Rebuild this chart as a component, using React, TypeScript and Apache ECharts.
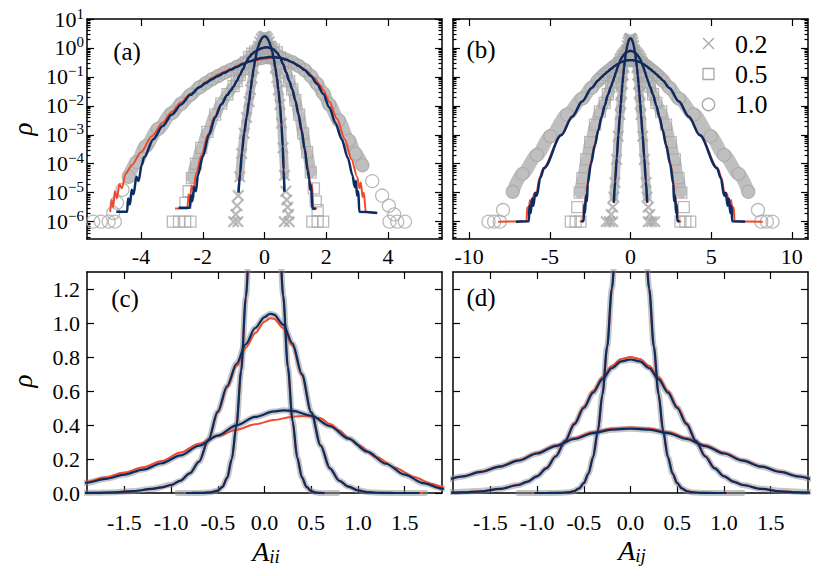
import React, { useEffect, useRef } from "react";
import * as echarts from "echarts";

// ---- values: pairs [A, log10(rho)] ----
// diagonal elements A_ii (panels a, c); sigma = 0.2, 0.5, 1.0
const diagGray02 = [[-1.0,-6.0],[-0.86,-6.0],[-0.93,-5.75],[-0.89,-5.45],[-0.85,-5.1],[-0.8,-4.45],[-0.74,-3.65],[-0.66,-2.95],[-0.58,-2.4],[-0.5,-1.85],[-0.45,-1.44],[-0.4,-1.05],[-0.35,-0.7],[-0.3,-0.4],[-0.25,-0.143],[-0.2,0.061],[-0.15,0.204],[-0.1,0.312],[-0.05,0.38],[0.0,0.405],[0.05,0.385],[0.1,0.322],[0.15,0.215],[0.2,0.065],[0.25,-0.13],[0.3,-0.37],[0.35,-0.68],[0.4,-1.03],[0.45,-1.45],[0.5,-1.95],[0.55,-2.6],[0.6,-3.45],[0.65,-4.4],[0.69,-4.95],[0.72,-5.25],[0.75,-5.5],[0.78,-5.75],[0.64,-6.0],[0.8,-6.0]];
const diagNavy02 = [[-0.84,-5.0],[-0.79,-4.35],[-0.73,-3.6],[-0.66,-2.95],[-0.58,-2.4],[-0.5,-1.85],[-0.45,-1.44],[-0.4,-1.05],[-0.35,-0.7],[-0.3,-0.4],[-0.25,-0.143],[-0.2,0.061],[-0.15,0.204],[-0.1,0.312],[-0.05,0.38],[0.0,0.405],[0.05,0.385],[0.1,0.322],[0.15,0.215],[0.2,0.065],[0.25,-0.13],[0.3,-0.37],[0.35,-0.68],[0.4,-1.03],[0.45,-1.45],[0.5,-1.95],[0.55,-2.65],[0.59,-3.4],[0.62,-4.2],[0.645,-4.97]];
const diagRed02 = [[-0.85,-5.0],[-0.8,-4.4],[-0.74,-3.65],[-0.66,-2.95],[-0.58,-2.4],[-0.5,-1.85],[-0.45,-1.44],[-0.4,-1.05],[-0.35,-0.7],[-0.3,-0.4],[-0.25,-0.145],[-0.2,0.058],[-0.15,0.2],[-0.1,0.307],[-0.05,0.374],[0.0,0.398],[0.05,0.379],[0.1,0.317],[0.15,0.211],[0.2,0.062],[0.25,-0.132],[0.3,-0.37],[0.35,-0.68],[0.4,-1.03],[0.45,-1.45],[0.5,-1.95],[0.55,-2.65],[0.59,-3.4],[0.62,-4.2],[0.65,-4.97]];

const diagGray05 = [[-2.97,-6.0],[-2.77,-6.0],[-2.57,-6.0],[-2.4,-6.0],[-2.56,-5.35],[-2.46,-4.95],[-2.35,-4.5],[-2.22,-4.0],[-2.05,-3.45],[-1.85,-2.9],[-1.6,-2.3],[-1.4,-1.92],[-1.2,-1.6],[-1.0,-1.32],[-0.9,-1.143],[-0.8,-0.939],[-0.7,-0.733],[-0.6,-0.502],[-0.5,-0.319],[-0.4,-0.201],[-0.3,-0.119],[-0.2,-0.058],[-0.1,-0.013],[0.0,0.015],[0.06,0.023],[0.1,0.021],[0.2,-0.004],[0.3,-0.056],[0.4,-0.155],[0.5,-0.323],[0.6,-0.553],[0.7,-0.839],[0.8,-1.143],[0.9,-1.43],[1.0,-1.8],[1.12,-2.3],[1.25,-2.95],[1.38,-3.6],[1.5,-4.3],[1.6,-4.85],[1.66,-5.3],[1.72,-5.6],[1.55,-6.0],[1.72,-6.0],[1.9,-6.0]];
const diagNavy05 = [[-2.78,-5.52],[-2.42,-5.52],[-2.38,-5.1],[-2.34,-5.3],[-2.28,-4.8],[-2.22,-4.95],[-2.16,-4.4],[-2.0,-3.75],[-1.8,-3.0],[-1.6,-2.4],[-1.4,-1.95],[-1.2,-1.62],[-1.1,-1.48],[-1.0,-1.328],[-0.9,-1.143],[-0.8,-0.939],[-0.7,-0.733],[-0.6,-0.502],[-0.5,-0.319],[-0.4,-0.201],[-0.3,-0.119],[-0.2,-0.058],[-0.1,-0.013],[0.0,0.015],[0.06,0.023],[0.1,0.021],[0.2,-0.004],[0.3,-0.056],[0.4,-0.155],[0.5,-0.323],[0.6,-0.553],[0.7,-0.839],[0.8,-1.143],[0.9,-1.43],[1.0,-1.82],[1.1,-2.3],[1.2,-2.85],[1.3,-3.5],[1.4,-4.25],[1.45,-4.55],[1.48,-4.9],[1.51,-4.75],[1.55,-5.55],[1.66,-5.56]];
const diagRed05 = [[-2.9,-5.55],[-2.5,-5.55],[-2.46,-5.05],[-2.42,-5.3],[-2.36,-4.75],[-2.3,-4.9],[-2.22,-4.35],[-2.04,-3.7],[-1.83,-2.98],[-1.62,-2.38],[-1.4,-1.93],[-1.2,-1.6],[-1.1,-1.465],[-1.0,-1.32],[-0.9,-1.14],[-0.8,-0.937],[-0.7,-0.733],[-0.6,-0.505],[-0.5,-0.325],[-0.4,-0.208],[-0.3,-0.127],[-0.2,-0.068],[-0.1,-0.027],[0.0,0.003],[0.06,0.012],[0.1,0.011],[0.2,-0.013],[0.3,-0.063],[0.4,-0.16],[0.5,-0.325],[0.6,-0.553],[0.7,-0.839],[0.8,-1.143],[0.9,-1.43],[1.0,-1.8],[1.1,-2.25],[1.2,-2.78],[1.3,-3.4],[1.4,-4.1],[1.5,-4.85],[1.54,-4.7],[1.58,-5.5],[1.7,-5.56]];

const diagGray10 = [[-5.55,-6.0],[-5.3,-6.0],[-5.05,-6.0],[-4.85,-6.0],[-4.9,-5.7],[-4.78,-5.35],[-4.6,-4.9],[-4.4,-4.45],[-4.15,-3.95],[-3.85,-3.4],[-3.45,-2.8],[-3.0,-2.25],[-2.7,-1.93],[-2.4,-1.62],[-2.1,-1.36],[-1.9,-1.215],[-1.7,-1.08],[-1.5,-0.967],[-1.3,-0.86],[-1.1,-0.757],[-0.9,-0.654],[-0.7,-0.556],[-0.5,-0.471],[-0.3,-0.4],[-0.1,-0.349],[0.1,-0.319],[0.2,-0.313],[0.3,-0.316],[0.5,-0.342],[0.7,-0.405],[0.9,-0.495],[1.1,-0.614],[1.3,-0.764],[1.5,-0.967],[1.7,-1.237],[1.9,-1.56],[2.1,-1.95],[2.4,-2.5],[2.74,-3.2],[2.95,-3.65],[3.17,-4.05],[3.49,-4.6],[3.81,-5.1],[4.03,-5.45],[4.2,-5.75],[4.05,-6.0],[4.3,-6.0],[4.55,-6.0]];
const diagNavy10 = [[-4.8,-5.66],[-4.45,-5.66],[-4.42,-5.2],[-4.36,-5.4],[-4.3,-4.9],[-4.24,-5.05],[-4.15,-4.45],[-4.08,-4.6],[-3.98,-4.05],[-3.9,-3.78],[-3.6,-3.15],[-3.3,-2.7],[-3.0,-2.3],[-2.7,-1.95],[-2.4,-1.62],[-2.1,-1.36],[-1.9,-1.215],[-1.7,-1.08],[-1.5,-0.967],[-1.3,-0.86],[-1.1,-0.757],[-0.9,-0.654],[-0.7,-0.556],[-0.5,-0.471],[-0.3,-0.4],[-0.1,-0.349],[0.1,-0.319],[0.2,-0.313],[0.3,-0.316],[0.5,-0.342],[0.7,-0.405],[0.9,-0.495],[1.1,-0.614],[1.3,-0.764],[1.5,-0.967],[1.7,-1.237],[1.9,-1.585],[2.1,-2.05],[2.3,-2.6],[2.5,-3.15],[2.7,-3.8],[2.85,-4.4],[2.92,-4.8],[2.96,-4.6],[3.0,-5.1],[3.04,-4.95],[3.07,-5.66],[3.65,-5.7]];
const diagRed10 = [[-5.0,-5.66],[-4.95,-5.25],[-4.9,-5.5],[-4.85,-4.95],[-4.78,-5.2],[-4.7,-4.7],[-4.62,-4.85],[-4.5,-4.35],[-4.3,-4.05],[-4.0,-3.6],[-3.65,-3.05],[-3.3,-2.58],[-3.0,-2.2],[-2.7,-1.88],[-2.4,-1.58],[-2.1,-1.33],[-1.9,-1.18],[-1.7,-1.036],[-1.5,-0.921],[-1.3,-0.818],[-1.1,-0.726],[-0.9,-0.623],[-0.7,-0.538],[-0.5,-0.475],[-0.3,-0.429],[-0.1,-0.393],[0.1,-0.367],[0.3,-0.348],[0.45,-0.344],[0.6,-0.357],[0.7,-0.392],[0.8,-0.434],[0.9,-0.49],[1.0,-0.55],[1.2,-0.678],[1.4,-0.83],[1.6,-1.027],[1.8,-1.276],[1.9,-1.456],[2.1,-1.85],[2.35,-2.45],[2.6,-3.15],[2.82,-3.85],[3.0,-4.45],[3.08,-4.85],[3.12,-4.65],[3.18,-5.15],[3.22,-5.0],[3.28,-5.66],[3.65,-5.7]];

// off-diagonal elements A_ij (panels b, d)
const offGray02 = [[-1.5,-6.0],[-1.3,-6.0],[-1.1,-6.0],[-1.2,-5.75],[-1.1,-5.5],[-1.03,-5.15],[-0.96,-4.65],[-0.86,-3.85],[-0.76,-3.05],[-0.65,-2.3],[-0.6,-1.93],[-0.55,-1.57],[-0.5,-1.24],[-0.45,-0.94],[-0.4,-0.675],[-0.35,-0.44],[-0.3,-0.235],[-0.25,-0.065],[-0.2,0.08],[-0.15,0.19],[-0.1,0.27],[-0.05,0.315],[0.0,0.33],[0.05,0.315],[0.1,0.27],[0.15,0.19],[0.2,0.08],[0.25,-0.065],[0.3,-0.235],[0.35,-0.44],[0.4,-0.675],[0.45,-0.94],[0.5,-1.24],[0.55,-1.57],[0.6,-1.93],[0.65,-2.3],[0.76,-3.05],[0.86,-3.85],[0.96,-4.65],[1.03,-5.15],[1.1,-5.5],[1.2,-5.75],[1.1,-6.0],[1.3,-6.0],[1.5,-6.0]];
const offNavy02 = [[-1.03,-5.35],[-0.95,-4.6],[-0.85,-3.8],[-0.75,-3.0],[-0.65,-2.3],[-0.6,-1.93],[-0.55,-1.57],[-0.5,-1.24],[-0.45,-0.94],[-0.4,-0.675],[-0.35,-0.44],[-0.3,-0.235],[-0.25,-0.065],[-0.2,0.08],[-0.15,0.19],[-0.1,0.27],[-0.05,0.315],[0.0,0.33],[0.05,0.315],[0.1,0.27],[0.15,0.19],[0.2,0.08],[0.25,-0.065],[0.3,-0.235],[0.35,-0.44],[0.4,-0.675],[0.45,-0.94],[0.5,-1.24],[0.55,-1.57],[0.6,-1.93],[0.65,-2.3],[0.75,-3.0],[0.85,-3.8],[0.95,-4.6],[1.03,-5.35]];
const offRed02 = [[-1.05,-5.35],[-0.96,-4.6],[-0.86,-3.8],[-0.76,-3.0],[-0.66,-2.3],[-0.6,-1.92],[-0.55,-1.56],[-0.5,-1.235],[-0.45,-0.937],[-0.4,-0.673],[-0.35,-0.44],[-0.3,-0.237],[-0.25,-0.068],[-0.2,0.076],[-0.15,0.185],[-0.1,0.265],[-0.05,0.31],[0.0,0.325],[0.05,0.31],[0.1,0.265],[0.15,0.185],[0.2,0.076],[0.25,-0.068],[0.3,-0.237],[0.35,-0.44],[0.4,-0.673],[0.45,-0.937],[0.5,-1.235],[0.55,-1.56],[0.6,-1.92],[0.66,-2.3],[0.76,-3.0],[0.86,-3.8],[0.96,-4.6],[1.05,-5.35]];

const offGray05 = [[-3.7,-6.0],[-3.4,-6.0],[-3.1,-6.0],[-3.3,-5.5],[-3.15,-5.0],[-2.98,-4.5],[-2.75,-3.85],[-2.5,-3.25],[-2.2,-2.65],[-1.9,-2.2],[-1.6,-1.9],[-1.4,-1.6],[-1.2,-1.328],[-1.1,-1.174],[-1.0,-1.009],[-0.9,-0.839],[-0.8,-0.668],[-0.7,-0.516],[-0.6,-0.393],[-0.5,-0.301],[-0.4,-0.229],[-0.3,-0.174],[-0.2,-0.134],[-0.1,-0.111],[0.0,-0.105],[0.1,-0.111],[0.2,-0.134],[0.3,-0.174],[0.4,-0.229],[0.5,-0.301],[0.6,-0.393],[0.7,-0.516],[0.8,-0.668],[0.9,-0.839],[1.0,-1.009],[1.1,-1.174],[1.2,-1.328],[1.4,-1.6],[1.6,-1.9],[1.9,-2.2],[2.2,-2.65],[2.5,-3.25],[2.75,-3.85],[2.98,-4.5],[3.15,-5.0],[3.3,-5.5],[3.1,-6.0],[3.4,-6.0],[3.7,-6.0]];
const offNavy05 = [[-3.05,-6.0],[-2.9,-5.98],[-2.86,-5.4],[-2.82,-5.7],[-2.76,-5.1],[-2.7,-5.3],[-2.65,-4.7],[-2.45,-4.0],[-2.2,-3.35],[-2.0,-2.85],[-1.8,-2.4],[-1.6,-2.0],[-1.4,-1.62],[-1.2,-1.328],[-1.1,-1.174],[-1.0,-1.009],[-0.9,-0.839],[-0.8,-0.668],[-0.7,-0.516],[-0.6,-0.393],[-0.5,-0.301],[-0.4,-0.229],[-0.3,-0.174],[-0.2,-0.134],[-0.1,-0.111],[0.0,-0.105],[0.1,-0.111],[0.2,-0.134],[0.3,-0.174],[0.4,-0.229],[0.5,-0.301],[0.6,-0.393],[0.7,-0.516],[0.8,-0.668],[0.9,-0.839],[1.0,-1.009],[1.1,-1.174],[1.2,-1.328],[1.4,-1.62],[1.6,-2.0],[1.8,-2.4],[2.0,-2.85],[2.2,-3.35],[2.45,-4.0],[2.65,-4.7],[2.7,-5.3],[2.76,-5.1],[2.82,-5.7],[2.86,-5.4],[2.9,-5.98],[3.05,-6.0]];
const offRed05 = [[-3.15,-6.0],[-2.93,-5.98],[-2.88,-5.45],[-2.84,-5.7],[-2.79,-5.1],[-2.73,-5.3],[-2.68,-4.65],[-2.47,-3.97],[-2.22,-3.33],[-2.0,-2.83],[-1.8,-2.38],[-1.6,-1.99],[-1.4,-1.61],[-1.2,-1.32],[-1.1,-1.166],[-1.0,-1.0],[-0.9,-0.83],[-0.8,-0.66],[-0.7,-0.508],[-0.6,-0.385],[-0.5,-0.293],[-0.4,-0.221],[-0.3,-0.166],[-0.2,-0.126],[-0.1,-0.103],[0.0,-0.097],[0.1,-0.103],[0.2,-0.126],[0.3,-0.166],[0.4,-0.221],[0.5,-0.293],[0.6,-0.385],[0.7,-0.508],[0.8,-0.66],[0.9,-0.83],[1.0,-1.0],[1.1,-1.166],[1.2,-1.32],[1.4,-1.61],[1.6,-1.99],[1.8,-2.38],[2.0,-2.83],[2.22,-3.33],[2.47,-3.97],[2.68,-4.65],[2.73,-5.3],[2.79,-5.1],[2.84,-5.7],[2.88,-5.45],[2.93,-5.98],[3.15,-6.0]];

const offGray10 = [[-8.8,-6.0],[-8.45,-6.0],[-8.1,-6.0],[-7.9,-5.6],[-7.3,-4.97],[-6.7,-4.35],[-5.8,-3.7],[-4.97,-3.05],[-3.93,-2.3],[-3.0,-1.75],[-2.4,-1.37],[-2.0,-1.125],[-1.8,-1.013],[-1.6,-0.907],[-1.4,-0.81],[-1.2,-0.721],[-1.0,-0.634],[-0.8,-0.559],[-0.6,-0.498],[-0.4,-0.453],[-0.2,-0.429],[0.0,-0.4225],[0.2,-0.429],[0.4,-0.453],[0.6,-0.498],[0.8,-0.559],[1.0,-0.634],[1.2,-0.721],[1.4,-0.81],[1.6,-0.907],[1.8,-1.013],[2.0,-1.125],[2.4,-1.37],[3.0,-1.75],[3.93,-2.3],[4.97,-3.05],[5.8,-3.7],[6.7,-4.35],[7.3,-4.97],[7.9,-5.6],[8.1,-6.0],[8.45,-6.0],[8.8,-6.0]];
const offNavy10 = [[-7.1,-6.0],[-6.3,-5.99],[-6.26,-5.45],[-6.18,-5.7],[-6.1,-5.2],[-6.02,-5.45],[-5.9,-5.0],[-5.8,-5.1],[-5.6,-4.5],[-5.35,-4.15],[-4.3,-3.02],[-3.6,-2.37],[-3.0,-1.85],[-2.4,-1.38],[-2.0,-1.125],[-1.8,-1.013],[-1.6,-0.907],[-1.4,-0.81],[-1.2,-0.721],[-1.0,-0.634],[-0.8,-0.559],[-0.6,-0.498],[-0.4,-0.453],[-0.2,-0.429],[0.0,-0.4225],[0.2,-0.429],[0.4,-0.453],[0.6,-0.498],[0.8,-0.559],[1.0,-0.634],[1.2,-0.721],[1.4,-0.81],[1.6,-0.907],[1.8,-1.013],[2.0,-1.125],[2.4,-1.38],[3.0,-1.85],[3.6,-2.37],[4.3,-3.02],[5.35,-4.15],[5.6,-4.5],[5.8,-5.1],[5.9,-5.0],[6.02,-5.45],[6.1,-5.2],[6.18,-5.7],[6.26,-5.45],[6.3,-5.99],[7.1,-6.0]];
const offRed10 = [[-8.2,-6.0],[-6.45,-5.99],[-6.4,-5.5],[-6.32,-5.75],[-6.24,-5.25],[-6.15,-5.45],[-5.95,-5.0],[-5.85,-5.12],[-5.65,-4.5],[-5.4,-4.15],[-4.3,-3.0],[-3.6,-2.35],[-3.0,-1.84],[-2.4,-1.37],[-2.0,-1.117],[-1.8,-1.005],[-1.6,-0.899],[-1.4,-0.802],[-1.2,-0.713],[-1.0,-0.626],[-0.8,-0.551],[-0.6,-0.49],[-0.4,-0.445],[-0.2,-0.421],[0.0,-0.415],[0.2,-0.421],[0.4,-0.445],[0.6,-0.49],[0.8,-0.551],[1.0,-0.626],[1.2,-0.713],[1.4,-0.802],[1.6,-0.899],[1.8,-1.005],[2.0,-1.117],[2.4,-1.37],[3.0,-1.84],[3.6,-2.35],[4.3,-3.0],[5.4,-4.15],[5.65,-4.5],[5.85,-5.12],[5.95,-5.0],[6.15,-5.45],[6.24,-5.25],[6.32,-5.75],[6.4,-5.5],[6.45,-5.99],[8.2,-6.0]];

// ---- axis ticks / labels ----
const X_TICKS_A = [-4, -2, 0, 2, 4];
const X_TICKS_B = [-10, -5, 0, 5, 10];
const X_TICKS_LIN = [-1.5, -1.0, -0.5, 0.0, 0.5, 1.0, 1.5];
const Y_TICKS_LOG = [1e-6, 1e-5, 1e-4, 1e-3, 1e-2, 1e-1, 1, 10];
const Y_TICKS_LIN = [0, 0.2, 0.4, 0.6, 0.8, 1.0, 1.2];
const LEGEND_LABELS = ["0.2", "0.5", "1.0"];

const FONT = "Liberation Serif";
const GRAY_BAND = "#bfbfbf";
const GRAY_MARK = "#a9a9a9";
const NAVY = "#0b2c62";
const RED = "#f04a2b";
const YMIN = 2.512e-7;
const YMAX = 10;

const CROSS = "path://M0,1.3L1.3,0L5,3.7L8.7,0L10,1.3L6.3,5L10,8.7L8.7,10L5,6.3L1.3,10L0,8.7L3.7,5Z";

function rho(d: number[][], minLog: number) {
  return d.filter((p) => p[1] > minLog).map((p) => [p[0], Math.pow(10, p[1])]);
}

function buildOption() {
  const minorLog: number[] = [];
  for (let e = -7; e <= 0; e++) {
    for (let k = 2; k <= 9; k++) {
      const v = k * Math.pow(10, e);
      if (v >= YMIN && v <= YMAX) minorLog.push(v);
    }
  }
  const axisLine = { show: true, onZero: false, lineStyle: { color: "#000", width: 1.5 } };
  const noLine = { show: false, onZero: false };
  const tick = (vals: number[], len = 7) => ({
    show: true, inside: true, length: len, customValues: vals,
    lineStyle: { color: "#000", width: 1.2 },
  });
  const grids = [
    { left: 87, top: 19, width: 355, height: 220 },
    { left: 453, top: 19, width: 355, height: 220 },
    { left: 87, top: 272, width: 355, height: 221 },
    { left: 453, top: 272, width: 355, height: 221 },
  ].map((g) => ({ ...g, containLabel: false, outerBoundsMode: "none" }));
  const xRanges = [[-5.75, 5.75], [-11, 11], [-1.9, 1.9], [-1.9, 1.9]];
  const xTicks = [X_TICKS_A, X_TICKS_B, X_TICKS_LIN, X_TICKS_LIN];

  const xAxis: any[] = [];
  const yAxis: any[] = [];
  const yMain: number[] = [];
  const logFmt = (v: number) => {
    const e = Math.round(Math.log10(v));
    return "{b|10}{s|" + (e < 0 ? "\u2212" + -e : String(e)) + "}";
  };
  for (let g = 0; g < 4; g++) {
    const isTop = g < 2;
    xAxis.push({
      type: "value", gridIndex: g, position: "bottom", min: xRanges[g][0], max: xRanges[g][1],
      axisLine, axisTick: tick(xTicks[g]), splitLine: { show: false },
      axisLabel: {
        show: true, customValues: xTicks[g], margin: isTop ? 6 : 18,
        formatter: isTop ? (v: number) => String(v) : (v: number) => v.toFixed(1),
        fontSize: 22, fontFamily: FONT, color: "#000",
      },
    });
    xAxis.push({
      type: "value", gridIndex: g, position: "top", min: xRanges[g][0], max: xRanges[g][1],
      axisLine, axisTick: tick(xTicks[g]), splitLine: { show: false }, axisLabel: { show: false },
    });
    if (isTop) {
      yMain[g] = yAxis.length;
      const base = { type: "log", logBase: 10, gridIndex: g, min: YMIN, max: YMAX, splitLine: { show: false } };
      yAxis.push({
        ...base, position: "left", axisLine, axisTick: tick(Y_TICKS_LOG),
        axisLabel: {
          show: g === 0, customValues: Y_TICKS_LOG, formatter: logFmt, margin: 3,
          rich: {
            b: { fontSize: 22, fontFamily: FONT, color: "#000", lineHeight: 26 },
            s: { fontSize: 15, fontFamily: FONT, color: "#000", lineHeight: 12, verticalAlign: "top" },
          },
        },
      });
      yAxis.push({ ...base, position: "right", axisLine, axisTick: tick(Y_TICKS_LOG), axisLabel: { show: false } });
      yAxis.push({ ...base, position: "left", axisLine: noLine, axisTick: tick(minorLog, 3.5), axisLabel: { show: false } });
      yAxis.push({ ...base, position: "right", axisLine: noLine, axisTick: tick(minorLog, 3.5), axisLabel: { show: false } });
    } else {
      yMain[g] = yAxis.length;
      const base = { type: "value", gridIndex: g, min: 0, max: 1.3, splitLine: { show: false } };
      yAxis.push({
        ...base, position: "left", axisLine, axisTick: tick(Y_TICKS_LIN),
        axisLabel: {
          show: g === 2, customValues: Y_TICKS_LIN, margin: 7,
          formatter: (v: number) => v.toFixed(1), fontSize: 22, fontFamily: FONT, color: "#000",
        },
      });
      yAxis.push({ ...base, position: "right", axisLine, axisTick: tick(Y_TICKS_LIN), axisLabel: { show: false } });
    }
  }

  const panels = [
    [[diagGray02, diagRed02, diagNavy02], [diagGray05, diagRed05, diagNavy05], [diagGray10, diagRed10, diagNavy10]],
    [[offGray02, offRed02, offNavy02], [offGray05, offRed05, offNavy05], [offGray10, offRed10, offNavy10]],
  ];
  const symbols = [CROSS, "rect", "circle"];
  const symSizes = [12, 11, 13];
  const bandWidths = [9, 11, 13];
  const bandCut = [-4.6, -5.3];

  const bands: any[] = [];
  const marks: any[] = [];
  const reds: any[] = [];
  const navies: any[] = [];
  for (let g = 0; g < 4; g++) {
    const isTop = g < 2;
    panels[g % 2].forEach((set, i) => {
      const [gray, red, navy] = set;
      const common = { xAxisIndex: 2 * g, yAxisIndex: yMain[g], silent: true, animation: false };
      bands.push({
        ...common, type: "line", data: rho(gray, isTop ? bandCut[g] : -5.95), symbol: "none", smooth: 0.3, smoothMonotone: "x",
        lineStyle: isTop
          ? { color: GRAY_BAND, width: bandWidths[i], cap: "round", join: "round" }
          : { color: "rgba(140,140,140,0.5)", width: 6, cap: "round", join: "round" },
        z: 1,
      });
      if (isTop) {
        marks.push({
          ...common, type: "scatter", name: LEGEND_LABELS[i], data: rho(gray, -99), symbol: symbols[i], symbolSize: symSizes[i],
          itemStyle: i === 0
            ? { color: GRAY_MARK }
            : { color: "rgba(255,255,255,0)", borderColor: GRAY_MARK, borderWidth: 1.3 },
          z: 2,
        });
      }
      reds.push({
        ...common, type: "line", data: rho(red, -99), symbol: "none", smooth: 0.3, smoothMonotone: "x",
        lineStyle: { color: RED, width: 2 }, z: 3,
      });
      navies.push({
        ...common, type: "line", data: rho(navy, -99), symbol: "none", smooth: 0.3, smoothMonotone: "x",
        lineStyle: { color: NAVY, width: isTop ? 2.5 : 2.2 }, z: 4,
      });
    });
  }

  const txt = (text: string, x: number, y: number, size: number, extra: any = {}) => ({
    type: "text", x, y, silent: true, ...extra,
    style: {
      text, fontSize: size, fontFamily: FONT, fill: "#000",
      textAlign: "center", textVerticalAlign: "middle", align: "center", verticalAlign: "middle",
      ...(extra.style || {}),
    },
  });
  const mathRich = {
    a: { fontSize: 28, fontFamily: FONT, fontStyle: "italic", fill: "#000", color: "#000", lineHeight: 30 },
    s: { fontSize: 19, fontFamily: FONT, fontStyle: "italic", fill: "#000", color: "#000", lineHeight: 16, verticalAlign: "bottom" },
  };
  const left = { style: { textAlign: "left", align: "left" } };
  const graphic: any[] = [
    txt("(a)", 127, 51, 25),
    txt("(b)", 481, 49, 25),
    txt("(c)", 125, 298, 25),
    txt("(d)", 481, 297, 25),
    txt("\u03c1", 23, 129, 27, { rotation: Math.PI / 2, style: { fontStyle: "italic" } }),
    txt("\u03c1", 23, 381, 27, { rotation: Math.PI / 2, style: { fontStyle: "italic" } }),
    txt("{a|A}{s|ii}", 266, 551, 28, { style: { rich: mathRich } }),
    txt("{a|A}{s|ij}", 632, 550, 28, { style: { rich: mathRich } }),
    // legend (panel b)
    { type: "line", silent: true, shape: { x1: 703, y1: 38, x2: 714, y2: 49 }, style: { stroke: GRAY_MARK, lineWidth: 1.3 } },
    { type: "line", silent: true, shape: { x1: 714, y1: 38, x2: 703, y2: 49 }, style: { stroke: GRAY_MARK, lineWidth: 1.3 } },
    { type: "rect", silent: true, shape: { x: 703, y: 68.5, width: 11, height: 11 }, style: { fill: "none", stroke: GRAY_MARK, lineWidth: 1.3 } },
    { type: "circle", silent: true, shape: { cx: 708.5, cy: 104.5, r: 6.2 }, style: { fill: "none", stroke: GRAY_MARK, lineWidth: 1.3 } },
    txt(LEGEND_LABELS[0], 735, 44, 26, left),
    txt(LEGEND_LABELS[1], 735, 74, 26, left),
    txt(LEGEND_LABELS[2], 735, 104, 26, left),
  ];

  return {
    animation: false,
    backgroundColor: "#fff",
    textStyle: { fontFamily: FONT },
    grid: grids,
    xAxis,
    yAxis,
    series: [...bands, ...marks, ...reds, ...navies],
    graphic,
  };
}

export default function App() {
  const ref = useRef<HTMLDivElement>(null);
  useEffect(() => {
    const chart = echarts.init(ref.current as HTMLDivElement, null, { renderer: "svg" });
    chart.setOption(buildOption() as any);
    return () => chart.dispose();
  }, []);
  return (
    <div
      ref={ref}
      style={{ position: "absolute", left: 0, top: 0, width: 829, height: 576, background: "#fff" }}
    />
  );
}
